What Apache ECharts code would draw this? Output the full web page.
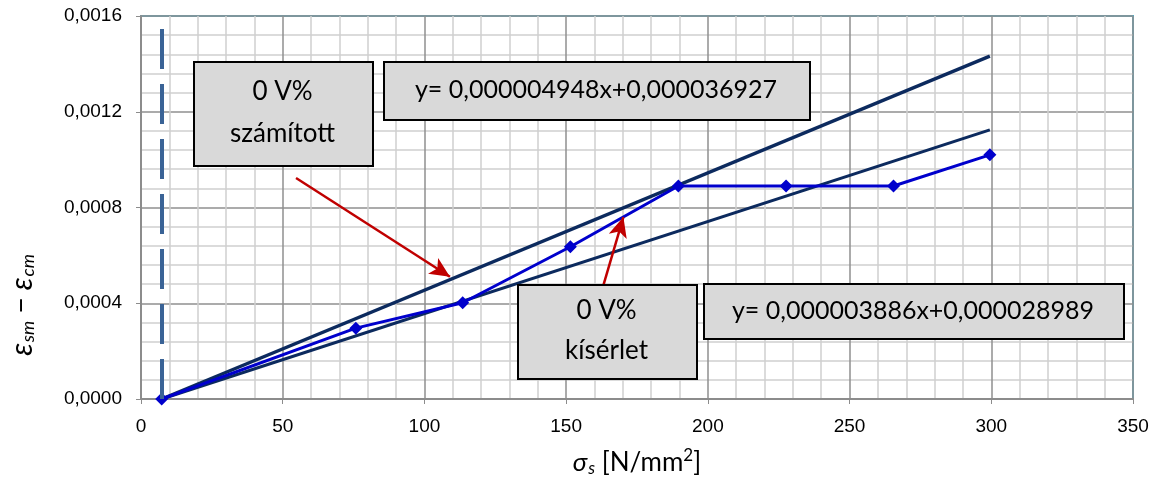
<!DOCTYPE html>
<html>
<head>
<meta charset="utf-8">
<script src="https://cdn.jsdelivr.net/npm/echarts@6/dist/echarts.min.js"></script>
<style>html,body{margin:0;padding:0;background:#fff}#c{width:1158px;height:485px}</style>
</head>
<body>
<div id="c"></div>
<script>
// Experimental data (0 V% kísérlet)
var sigmaS = [7.3, 75.8, 113.5, 151.5, 189.6, 227.6, 265.5, 299.5];
var strainDiff = [0, 0.000296, 0.000402, 0.000636, 0.000890, 0.000890, 0.000890, 0.001020];
// Fitted lines (start and end points)
var calcLineX = [7.3, 299.5];
var calcLineY = [0, 0.001432];
var testLineX = [7.3, 299.5];
var testLineY = [0, 0.001124];
// dashed vertical reference line
var refX = 7.3;
// text labels
var boxCalc = ['0 V%', 'számított'];
var eqCalc = 'y= 0,000004948x+0,000036927';
var boxTest = ['0 V%', 'kísérlet'];
var eqTest = 'y= 0,000003886x+0,000028989';
// arrows (data coords)
var arrow1 = [[54.7, 0.000923], [109.0, 0.000511]];
var arrow2 = [[163.1, 0.000474], [170.2, 0.000760]];
var xTicks = {min: 0, max: 350, interval: 50};
var yTicks = {min: 0, max: 0.0016, interval: 0.0004};

function pairs(xs, ys) { return xs.map(function (x, i) { return [x, ys[i]]; }); }

var chart = echarts.init(document.getElementById('c'), null, {renderer: 'canvas'});
var navy = '#0c2a5e';
var boxFont = 'Lato, "Open Sans", sans-serif';

var graphics = [
  {type: 'rect', left: 193, top: 61, z: 100, zlevel: 1, shape: {width: 179, height: 104}, style: {fill: '#d9d9d9', stroke: '#000', lineWidth: 2}},
  {type: 'text', x: 282.5, y: 113, z: 101, zlevel: 1, style: {text: boxCalc.join('\n'), fill: '#000', fontSize: 26, fontFamily: boxFont, align: 'center', verticalAlign: 'middle', lineHeight: 42}},
  {type: 'rect', left: 383, top: 61, z: 100, zlevel: 1, shape: {width: 426, height: 58}, style: {fill: '#d9d9d9', stroke: '#000', lineWidth: 2}},
  {type: 'text', x: 596, y: 90, z: 101, zlevel: 1, style: {text: eqCalc, fill: '#000', fontSize: 25, fontFamily: boxFont, align: 'center', verticalAlign: 'middle'}},
  {type: 'rect', left: 517, top: 284, z: 100, zlevel: 1, shape: {width: 179, height: 94}, style: {fill: '#d9d9d9', stroke: '#000', lineWidth: 2}},
  {type: 'text', x: 606.5, y: 331, z: 101, zlevel: 1, style: {text: boxTest.join('\n'), fill: '#000', fontSize: 26, fontFamily: boxFont, align: 'center', verticalAlign: 'middle', lineHeight: 40}},
  {type: 'rect', left: 703, top: 283, z: 100, zlevel: 1, shape: {width: 420, height: 55}, style: {fill: '#d9d9d9', stroke: '#000', lineWidth: 2}},
  {type: 'text', x: 913, y: 311, z: 101, zlevel: 1, style: {text: eqTest, fill: '#000', fontSize: 25, fontFamily: boxFont, align: 'center', verticalAlign: 'middle'}},
  {type: 'text', x: 22, y: 305, rotation: Math.PI / 2, z: 101,
    style: {text: '{i|ε}{sub|sm}{n| − }{i|ε}{sub|cm}', align: 'center', verticalAlign: 'middle',
      rich: {
        i: {fontFamily: boxFont, fontStyle: 'italic', fontSize: 30, fill: '#000'},
        n: {fontFamily: boxFont, fontSize: 28, fill: '#000'},
        sub: {fontFamily: boxFont, fontStyle: 'italic', fontSize: 18, fill: '#000', padding: [12, 0, 0, 1]}
      }}}
];

chart.setOption({
  animation: false,
  backgroundColor: '#fff',
  grid: {left: 141, right: 25, top: 16, bottom: 86, show: true, borderColor: '#4bacc6', borderWidth: 2, backgroundColor: 'transparent'},
  xAxis: {
    type: 'value', min: xTicks.min, max: xTicks.max, interval: xTicks.interval,
    axisLine: {show: true, onZero: false, lineStyle: {color: '#8c8c8c', width: 2}},
    axisTick: {show: true, length: 5, lineStyle: {color: '#8c8c8c'}},
    axisLabel: {color: '#000', fontSize: 19, fontFamily: '"Liberation Sans", Arial, sans-serif', margin: 18},
    splitLine: {show: true, lineStyle: {color: '#8f8f8f', width: 1.5}},
    minorTick: {show: true, splitNumber: 5, length: 0},
    minorSplitLine: {show: true, lineStyle: {color: '#cfcfcf', width: 1.5}},
    name: '{i|σ}{sub|s}{n| [N/mm}{sup|2}{n|]}',
    nameLocation: 'middle', nameGap: 48,
    nameTextStyle: {
      rich: {
        i: {fontFamily: boxFont, fontStyle: 'italic', fontSize: 26, color: '#000'},
        n: {fontFamily: boxFont, fontSize: 26, color: '#000'},
        sub: {fontFamily: boxFont, fontStyle: 'italic', fontSize: 17, color: '#000', padding: [12, 0, 0, 1]},
        sup: {fontFamily: boxFont, fontSize: 17, color: '#000', padding: [0, 0, 14, 0]}
      }
    }
  },
  yAxis: {
    type: 'value', min: yTicks.min, max: yTicks.max, interval: yTicks.interval,
    axisLine: {show: true, onZero: false, lineStyle: {color: '#8c8c8c', width: 2}},
    axisTick: {show: true, length: 5, lineStyle: {color: '#8c8c8c'}},
    axisLabel: {color: '#000', fontSize: 19, fontFamily: '"Liberation Sans", Arial, sans-serif', margin: 19,
      formatter: function (v) { return v.toFixed(4).replace('.', ','); }},
    splitLine: {show: true, lineStyle: {color: '#8f8f8f', width: 1.5}},
    minorTick: {show: true, splitNumber: 5, length: 0},
    minorSplitLine: {show: true, lineStyle: {color: '#cfcfcf', width: 1.5}}
  },
  series: [
    {
      type: 'line', name: 'calc', data: pairs(calcLineX, calcLineY), symbol: 'none',
      lineStyle: {color: navy, width: 3.5}, z: 3,
      markLine: {
        silent: true, symbol: ['none', 'none'], label: {show: false},
        lineStyle: {color: '#3a6396', width: 4, type: [40, 15]},
        data: [{xAxis: refX}]
      }
    },
    {
      type: 'line', name: 'test', data: pairs(testLineX, testLineY), symbol: 'none',
      lineStyle: {color: navy, width: 3}, z: 3
    },
    {
      type: 'line', name: 'exp', data: pairs(sigmaS, strainDiff),
      symbol: 'diamond', symbolSize: 13,
      itemStyle: {color: '#0000cc'},
      lineStyle: {color: '#0000cc', width: 3}, z: 4,
      markLine: {
        silent: true, symbol: ['none', 'arrow'], symbolSize: [14, 20], label: {show: false},
        lineStyle: {color: '#c00000', width: 2.5, type: 'solid'},
        data: [
          [{coord: arrow1[0]}, {coord: arrow1[1]}],
          [{coord: arrow2[0]}, {coord: arrow2[1]}]
        ]
      }
    }
  ],
  graphic: graphics
});
</script>
</body>
</html>
